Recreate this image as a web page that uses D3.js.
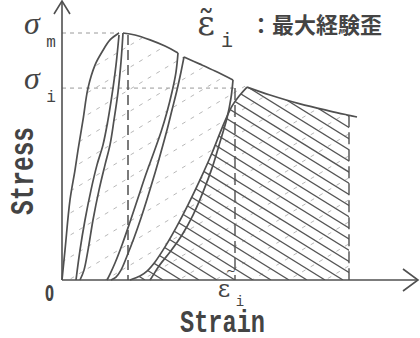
<!DOCTYPE html>
<html>
<head>
<meta charset="utf-8">
<script src="https://cdn.jsdelivr.net/npm/d3@7"></script>
<style>
  html, body { margin: 0; padding: 0; background: #fff; }
  svg { display: block; }
</style>
</head>
<body>
<svg id="chart" width="420" height="338"></svg>
<script>
// Strain (x) and normalised stress σ/σm (y) along each branch of the cyclic curve.
const load1Strain   = [0.00, 0.03, 0.08, 0.13, 0.16, 0.21, 0.26, 0.33, 0.40, 0.48, 0.57];
const load1Stress   = [0.000, 0.121, 0.324, 0.445, 0.526, 0.648, 0.777, 0.870, 0.923, 0.972, 1.000];

const unload1Strain = [0.57, 0.54, 0.50, 0.46, 0.41, 0.35, 0.29, 0.23, 0.18, 0.14];
const unload1Stress = [0.992, 0.870, 0.749, 0.648, 0.547, 0.466, 0.364, 0.243, 0.121, 0.000];

const reload1Strain = [0.18, 0.22, 0.26, 0.31, 0.37, 0.43, 0.48, 0.52, 0.56, 0.59, 0.61];
const reload1Stress = [0.000, 0.040, 0.121, 0.243, 0.364, 0.466, 0.547, 0.648, 0.761, 0.883, 1.000];

const env1Strain    = [0.61, 0.73, 0.88, 1.03, 1.16];
const env1Stress    = [1.000, 0.992, 0.972, 0.947, 0.919];

const unload2Strain = [1.16, 1.14, 1.10, 1.05, 0.99, 0.92, 0.84, 0.76, 0.68, 0.60, 0.53, 0.48, 0.45];
const unload2Stress = [0.919, 0.842, 0.761, 0.680, 0.599, 0.518, 0.429, 0.332, 0.235, 0.142, 0.069, 0.024, 0.000];

const reload2Strain = [0.49, 0.54, 0.59, 0.65, 0.72, 0.79, 0.86, 0.93, 0.99, 1.05, 1.10, 1.15, 1.19, 1.22];
const reload2Stress = [0.000, 0.012, 0.040, 0.097, 0.170, 0.251, 0.340, 0.433, 0.518, 0.607, 0.688, 0.769, 0.842, 0.903];

const env2Strain    = [1.22, 1.38, 1.53, 1.71];
const env2Stress    = [0.903, 0.874, 0.846, 0.810];

const unload3Strain = [1.71, 1.69, 1.65, 1.58, 1.50, 1.41, 1.31, 1.20, 1.08, 0.97, 0.90, 0.88];
const unload3Stress = [0.810, 0.737, 0.656, 0.559, 0.453, 0.356, 0.263, 0.182, 0.113, 0.057, 0.012, 0.000];

const reload3Strain = [0.68, 0.78, 0.85, 0.93, 1.03, 1.14, 1.26, 1.38, 1.50, 1.60, 1.70, 1.78, 1.85];
const reload3Stress = [0.000, 0.016, 0.036, 0.073, 0.134, 0.211, 0.304, 0.405, 0.514, 0.615, 0.704, 0.749, 0.781];

const env3Strain    = [1.85, 2.08, 2.38, 2.68, 2.87, 2.95];
const env3Stress    = [0.781, 0.749, 0.713, 0.684, 0.667, 0.660];

// Reference levels
const sigmaM = 1.0;          // peak stress σm
const sigmaI = 0.777;        // σi
const peakStrain = 0.57;     // strain at σm
const firstMaxStrain = 0.66; // dashed strain below σm
const epsI = 1.73;           // ε̃i
const endStrain = 2.87;      // right edge of the hatched area
const endStress = 0.667;

const yTickSymbols = ["σ", "σ"];
const yTickSubs    = ["m", "i"];
const yTickValues  = [sigmaM, sigmaI];

const svg = d3.select("#chart");
const x = d3.scaleLinear().domain([0, 3.5]).range([62, 412]);
const y = d3.scaleLinear().domain([0, 1]).range([280, 33]);

const ink = "#505050";
const pts = (sx, sy) => sx.map((v, i) => [v, sy[i]]);
const line = d3.line().x(d => x(d[0])).y(d => y(d[1])).curve(d3.curveCatmullRom.alpha(0.5));

const load1   = pts(load1Strain, load1Stress);
const unload1 = pts(unload1Strain, unload1Stress);
const reload1 = pts(reload1Strain, reload1Stress);
const env1    = pts(env1Strain, env1Stress);
const unload2 = pts(unload2Strain, unload2Stress);
const reload2 = pts(reload2Strain, reload2Stress);
const env2    = pts(env2Strain, env2Stress);
const unload3 = pts(unload3Strain, unload3Stress);
const reload3 = pts(reload3Strain, reload3Stress);
const env3    = pts(env3Strain, env3Stress);
const env3Cut = env3.filter(d => d[0] <= endStrain);

const cont = p => line(p).replace(/^M/, "L");

// clip regions
const defs = svg.append("defs");
const outerPath = line(load1) + cont(env1) + cont(env2) + cont(env3Cut) +
  `L${x(endStrain)},${y(0)}L${x(0)},${y(0)}Z`;
defs.append("clipPath").attr("id", "outerClip").append("path").attr("d", outerPath);
const lastPath = line(reload3) + cont(env3Cut) + `L${x(endStrain)},${y(0)}L${x(reload3Strain[0])},${y(0)}Z`;
defs.append("clipPath").attr("id", "lastClip").append("path").attr("d", lastPath);

// light dashed shading under the whole envelope
const light = svg.append("g").attr("clip-path", "url(#outerClip)");
for (let b = 20; b < 480; b += 22) {
  light.append("line")
    .attr("x1", 62).attr("y1", b).attr("x2", 62 + 500).attr("y2", b - 300)
    .attr("stroke", "#b8b8b8").attr("stroke-width", 1).attr("stroke-dasharray", "4,6");
}

// solid hatching for the last cycle
const hatch = svg.append("g").attr("clip-path", "url(#lastClip)");
for (let xk = 343 - 18 * 12; xk < 700; xk += 18) {
  hatch.append("line")
    .attr("x1", xk).attr("y1", 280).attr("x2", xk - 420).attr("y2", 280 - 0.62 * 420)
    .attr("stroke", "#555").attr("stroke-width", 1.3);
}

// reference dashed lines
const g = svg.append("g");
g.append("line").attr("x1", x(0)).attr("x2", x(peakStrain)).attr("y1", y(sigmaM)).attr("y2", y(sigmaM))
  .attr("stroke", "#9a9a9a").attr("stroke-width", 1).attr("stroke-dasharray", "4,4");
g.append("line").attr("x1", x(0)).attr("x2", x(epsI)).attr("y1", y(sigmaI)).attr("y2", y(sigmaI))
  .attr("stroke", "#9a9a9a").attr("stroke-width", 1).attr("stroke-dasharray", "4,4");
g.append("line").attr("x1", x(firstMaxStrain)).attr("x2", x(firstMaxStrain)).attr("y1", y(sigmaM) + 2).attr("y2", y(0))
  .attr("stroke", ink).attr("stroke-width", 1.5).attr("stroke-dasharray", "10,5");
g.append("line").attr("x1", x(epsI)).attr("x2", x(epsI)).attr("y1", y(sigmaI)).attr("y2", y(0))
  .attr("stroke", ink).attr("stroke-width", 1.4).attr("stroke-dasharray", "12,5");
g.append("line").attr("x1", x(endStrain)).attr("x2", x(endStrain)).attr("y1", y(endStress)).attr("y2", y(0))
  .attr("stroke", ink).attr("stroke-width", 1.4).attr("stroke-dasharray", "12,5");

// curve branches
[load1, unload1, reload1, env1, unload2, reload2, env2, unload3, reload3, env3].forEach(p => {
  g.append("path").attr("d", line(p)).attr("fill", "none")
    .attr("stroke", ink).attr("stroke-width", 1.7).attr("stroke-linejoin", "round");
});

// axes with open arrowheads
const ax = svg.append("g").attr("stroke", ink).attr("stroke-width", 1.6).attr("fill", "none");
ax.append("line").attr("x1", x(0)).attr("y1", y(0)).attr("x2", x(0)).attr("y2", 1);
ax.append("path").attr("d", `M${x(0) - 8},14L${x(0)},1L${x(0) + 8},14`);
ax.append("line").attr("x1", x(0)).attr("y1", y(0)).attr("x2", 418).attr("y2", y(0));
ax.append("path").attr("d", `M403,${y(0) - 11}L418,${y(0)}L403,${y(0) + 11}`);

// stress tick labels
const txt = svg.append("g").attr("fill", "#444");
yTickValues.forEach((v, i) => {
  txt.append("text").attr("x", 24).attr("y", y(v) + 1)
    .attr("font-family", "Liberation Serif").attr("font-style", "italic").attr("font-size", 32)
    .text(yTickSymbols[i]);
  txt.append("text").attr("x", 51).attr("y", y(v) + 14).attr("text-anchor", "middle")
    .attr("font-family", "Liberation Mono").attr("font-size", 16)
    .text(yTickSubs[i]);
});

// origin
txt.append("text").attr("x", 45).attr("y", 301)
  .attr("font-family", "DejaVu Sans").attr("font-weight", "bold").attr("font-size", 22)
  .attr("textLength", 9).attr("lengthAdjust", "spacingAndGlyphs").text("0");

// strain tick label ε̃i
txt.append("text").attr("x", x(epsI) - 11).attr("y", 297).attr("text-anchor", "middle")
  .attr("font-family", "DejaVu Serif").attr("font-size", 24).text("ε");
txt.append("text").attr("x", x(epsI) + 5).attr("y", 306).attr("text-anchor", "middle")
  .attr("font-family", "Liberation Mono").attr("font-size", 14).text("i");
txt.append("text").attr("x", x(epsI) - 4).attr("y", 275).attr("text-anchor", "middle")
  .attr("font-family", "DejaVu Sans").attr("font-size", 12).text("~");

// axis titles
txt.append("text").attr("transform", "translate(33,171) rotate(-90)").attr("text-anchor", "middle")
  .attr("font-family", "Liberation Mono").attr("font-weight", "bold").attr("font-size", 34)
  .attr("textLength", 88).attr("lengthAdjust", "spacingAndGlyphs").text("Stress");
txt.append("text").attr("x", 180).attr("y", 332)
  .attr("font-family", "Liberation Mono").attr("font-weight", "bold").attr("font-size", 32)
  .attr("textLength", 85).attr("lengthAdjust", "spacingAndGlyphs").text("Strain");

// note: ε̃i = maximum experienced strain
txt.append("text").attr("x", 206).attr("y", 35).attr("text-anchor", "middle")
  .attr("font-family", "DejaVu Serif").attr("font-size", 34).text("ε\u0303");
txt.append("text").attr("x", 227).attr("y", 47).attr("text-anchor", "middle")
  .attr("font-family", "Liberation Mono").attr("font-size", 20).text("i");
txt.append("text").attr("x", 250).attr("y", 33)
  .attr("font-family", "Noto Sans CJK JP").attr("font-weight", "bold").attr("font-size", 22)
  .text("：最大経験歪");
</script>
</body>
</html>
